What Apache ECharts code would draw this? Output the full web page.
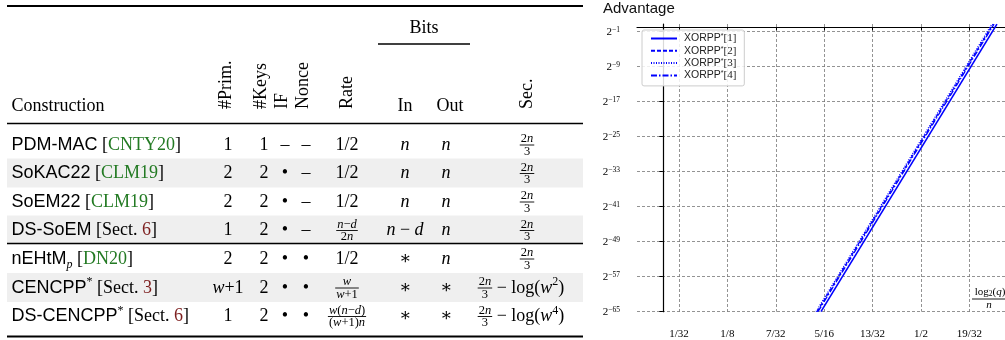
<!DOCTYPE html>
<html lang="en">
  <head>
    <meta charset="UTF-8" />
    <title>Constructions and advantage</title>
    <script src="https://cdn.jsdelivr.net/npm/echarts@6.0.0/dist/echarts.min.js"></script>
    <style>
      body { margin: 0; background: #fff; }
    </style>
  </head>

  <body>
    <div id="main" style="width: 1005px; height: 340px"></div>

    <script>
      // ---- table (left) ----
      var constructions = ["PDM-MAC", "SoKAC22", "SoEM22", "DS-SoEM", "nEHtM", "CENCPP", "DS-CENCPP"];
      var nameMarks = ["", "", "", "", "sub:p", "sup:*", "sup:*"];
      var cites = ["CNTY20", "CLM19", "CLM19", "6", "DN20", "3", "6"];
      var citeKinds = ["ref", "ref", "ref", "sect", "ref", "sect", "sect"];
      var prims = ["1", "2", "2", "1", "2", "w+1", "1"];
      var keys = ["1", "2", "2", "2", "2", "2", "2"];
      var ifs = ["–", "•", "•", "•", "•", "•", "•"];
      var nonces = ["–", "–", "–", "–", "•", "•", "•"];
      var rates = ["1/2", "1/2", "1/2", ["n−d", "2n"], "1/2", ["w", "w+1"], ["w(n−d)", "(w+1)n"]];
      var bitsIn = ["n", "n", "n", "n − d", "∗", "∗", "∗"];
      var bitsOut = ["n", "n", "n", "n", "n", "∗", "∗"];
      var secFrac = ["2n", "3"];
      var secLogPow = ["", "", "", "", "", "2", "4"]; // "− log(w^k)" tail
      var shadedRows = [1, 3, 5];

      var rotHeaders = ["#Prim.", "#Keys", "IF", "Nonce", "Rate", "Sec."];

      // ---- chart (right) ----
      var xTickValues = [1 / 32, 4 / 32, 7 / 32, 10 / 32, 13 / 32, 16 / 32, 19 / 32];
      var xTickLabels = ["1/32", "1/8", "7/32", "5/16", "13/32", "1/2", "19/32"];
      var yTickValues = [-65, -57, -49, -41, -33, -25, -17, -9, -1]; // log2 of advantage
      var seriesNames = ["XORPP*[1]", "XORPP*[2]", "XORPP*[3]", "XORPP*[4]"];
      // [log2(q)/n, log2(advantage)]
      var xorpp1 = [[0.3063, -65], [0.6472, 0.75]];
      var xorpp2 = [[0.2986, -65], [0.6397, 0.75]];
      var xorpp3 = [[0.2967, -65], [0.6375, 0.75]];
      var xorpp4 = [[0.3005, -65], [0.6416, 0.75]];

      var SERIF = '"Liberation Serif", "DejaVu Serif", serif';
      var SANS = '"Liberation Sans", "DejaVu Sans", sans-serif';
      var BIG = 18, SMALL = 12.5;
      var GREEN = "#237a23", RED = "#7d1f1f";

      var rich = {
        u: { fontFamily: SERIF, fontSize: BIG, lineHeight: 24, fill: "#000" },
        i: { fontFamily: SERIF, fontSize: BIG, fontStyle: "italic", lineHeight: 24, fill: "#000" },
        sf: { fontFamily: SANS, fontSize: BIG, lineHeight: 24, fill: "#000" },
        su: { fontFamily: SERIF, fontSize: SMALL, lineHeight: 14, fill: "#000" },
        si: { fontFamily: SERIF, fontSize: SMALL, fontStyle: "italic", lineHeight: 14, fill: "#000" },
        sp: { fontFamily: SERIF, fontSize: 12, lineHeight: 12, verticalAlign: "top", fill: "#000" },
        sb: { fontFamily: SERIF, fontSize: 12, fontStyle: "italic", lineHeight: 12, verticalAlign: "bottom", fill: "#000" },
        g: { fontFamily: SERIF, fontSize: BIG, lineHeight: 24, fill: GREEN },
        r: { fontFamily: SERIF, fontSize: BIG, lineHeight: 24, fill: RED },
        cu: { fontFamily: SERIF, fontSize: 11, lineHeight: 13, fill: "#000" },
        ci: { fontFamily: SERIF, fontSize: 11, fontStyle: "italic", lineHeight: 13, fill: "#000" },
        cb: { fontFamily: SERIF, fontSize: 7.5, lineHeight: 7.5, verticalAlign: "bottom", fill: "#000" },
      };

      var ctx = document.createElement("canvas").getContext("2d");
      function textW(s, size, italic) {
        ctx.font = (italic ? "italic " : "") + size + "px " + SERIF;
        return ctx.measureText(s).width;
      }
      function runs(s) {
        return s.match(/[a-z]+|[^a-z]+/g) || [];
      }
      function math(s, small) {
        var p = small ? "s" : "";
        return runs(s).map(function (r) {
          return "{" + p + (/[a-z]/.test(r) ? "i" : "u") + "|" + r + "}";
        }).join("");
      }
      function mathW(s, small) {
        return runs(s).reduce(function (w, r) {
          return w + textW(r, small ? SMALL : BIG, /[a-z]/.test(r));
        }, 0);
      }

      var els = [];
      function txt(x, y, text, align, extra) {
        var e = { type: "text", x: x, y: y, silent: true,
          style: { text: text, rich: rich, align: align || "center", verticalAlign: "middle",
            font: BIG + "px " + SERIF, fill: "#000" } };
        for (var k in extra || {}) e[k] = extra[k];
        els.push(e);
      }
      function rule(x1, x2, y, w) {
        els.push({ type: "line", silent: true, shape: { x1: x1, y1: y, x2: x2, y2: y },
          style: { stroke: "#000", lineWidth: w } });
      }
      function frac(cx, cy, num, den) {
        var w = Math.max(mathW(num, true), mathW(den, true)) + 2;
        txt(cx, cy - 6, math(num, true));
        rule(cx - w / 2, cx + w / 2, cy, 0.9);
        txt(cx, cy + 6.5, math(den, true));
        return w;
      }

      var TL = 7, TR = 583;
      var rowY = [145, 173.5, 202, 230.5, 259, 288, 316.5];
      var col = { prim: 228, keys: 264, iff: 285, nonce: 306, rate: 347, bin: 405, bout: 446, sec: 527 };
      var rotX = [226, 261, 282, 303, 347, 527.5];

      shadedRows.forEach(function (r) {
        els.push({ type: "rect", silent: true, shape: { x: TL, y: rowY[r] - 15, width: TR - TL, height: 29 },
          style: { fill: "#efefef" } });
      });

      rule(TL, TR, 6, 2);
      rule(TL, TR, 123.5, 1.6);
      rule(TL, TR, 243.5, 1.6);
      rule(TL, TR, 336.5, 2);
      rule(378, 470, 44, 1.3);

      txt(11.5, 106, "{u|Construction}", "left");
      txt(424, 28, "{u|Bits}");
      txt(405, 106, "{u|In}");
      txt(450, 106, "{u|Out}");
      rotHeaders.forEach(function (h, k) {
        txt(rotX[k], 109, "{u|" + h + "}", "left", { rotation: Math.PI / 2 });
      });

      constructions.forEach(function (name, r) {
        var y = rowY[r];
        var s = "{sf|" + name + "}";
        if (nameMarks[r] === "sub:p") s += "{sb|p}";
        if (nameMarks[r] === "sup:*") s += "{sp|*}";
        if (citeKinds[r] === "ref") s += "{u| [}{g|" + cites[r] + "}{u|]}";
        else s += "{u| [Sect. }{r|" + cites[r] + "}{u|]}";
        txt(11.5, y, s, "left");

        txt(col.prim, y, math(prims[r]));
        txt(col.keys, y, math(keys[r]));
        txt(col.iff, y, "{u|" + ifs[r] + "}");
        txt(col.nonce, y, "{u|" + nonces[r] + "}");
        if (Array.isArray(rates[r])) frac(col.rate, y, rates[r][0], rates[r][1]);
        else txt(col.rate, y, math(rates[r]));
        txt(col.bin, y, math(bitsIn[r]));
        txt(col.bout, y, math(bitsOut[r]));

        if (!secLogPow[r]) {
          frac(col.sec, y, secFrac[0], secFrac[1]);
        } else {
          var fw = Math.max(mathW(secFrac[0], true), mathW(secFrac[1], true)) + 2;
          var tw = textW(" − log(", BIG) + textW("w", BIG, true) + textW(secLogPow[r], 12) + textW(")", BIG);
          var left = 521 - (fw + tw) / 2;
          frac(left + fw / 2, y, secFrac[0], secFrac[1]);
          txt(left + fw, y, "{u| − log(}{i|w}{sp|" + secLogPow[r] + "}{u|)}", "left");
        }
      });

      // x-axis caption, log2(q)/n
      txt(990, 292, "{cu|log}{cb|2}{cu|(}{ci|q}{cu|)}");
      rule(972, 1008, 299, 0.9);
      txt(989, 305.5, "{ci|n}");

      var lineTypes = ["solid", [4, 2], [1, 1.5], [6, 2, 1.5, 2]];
      var lineData = [xorpp1, xorpp2, xorpp3, xorpp4];

      var gridLine = { show: true, lineStyle: { type: [3, 2], color: "#777777", width: 0.8 } };

      var mCharts = echarts.init(document.getElementById("main"));
      var option = {
        animation: false,
        title: {
          text: "Advantage",
          left: 603,
          top: 1,
          padding: 0,
          textStyle: { fontFamily: SANS, fontSize: 15, fontWeight: "normal", color: "#111" },
        },
        grid: { left: 637, right: 0, top: 24, bottom: 28.3, outerBoundsMode: "none" },
        legend: {
          orient: "vertical",
          left: 642,
          top: 30,
          padding: [3, 8, 5, 8],
          itemWidth: 26,
          itemHeight: 10,
          itemGap: 1.3,
          borderColor: "#cccccc",
          borderWidth: 1,
          borderRadius: 2,
          backgroundColor: "rgba(255,255,255,0.85)",
          itemStyle: { opacity: 0 },
          data: seriesNames,
          formatter: function (name) {
            return "{x|XORPP}{s|*}{k|[" + name.slice(7, 8) + "]}";
          },
          textStyle: {
            padding: [0, 0, 0, 2],
            rich: {
              x: { fontFamily: SANS, fontSize: 10.5, lineHeight: 11, color: "#222" },
              s: { fontFamily: SANS, fontSize: 7, lineHeight: 7, verticalAlign: "top", color: "#222" },
              k: { fontFamily: SERIF, fontSize: 11, lineHeight: 11, color: "#222" },
            },
          },
        },
        xAxis: {
          type: "value",
          min: -0.0501,
          max: 0.6628,
          offset: 11,
          axisLine: { show: true, lineStyle: { color: "#000", width: 1.2 } },
          axisTick: { show: true, customValues: xTickValues, length: 3, lineStyle: { color: "#000" } },
          axisLabel: {
            customValues: xTickValues,
            margin: 6,
            color: "#000",
            fontFamily: SERIF,
            fontSize: 11,
            formatter: function (v) {
              for (var k = 0; k < xTickValues.length; k++) {
                if (Math.abs(v - xTickValues[k]) < 1e-9) return xTickLabels[k];
              }
              return "";
            },
          },
          splitLine: gridLine,
        },
        yAxis: {
          type: "value",
          min: -65,
          max: 0.76,
          offset: 10,
          axisLine: { show: true, lineStyle: { color: "#000", width: 1.2 } },
          axisTick: { show: true, customValues: yTickValues, length: 3.5, lineStyle: { color: "#000" } },
          axisLabel: {
            customValues: yTickValues,
            margin: 7,
            formatter: function (v) {
              return "{b|2}{s|−" + Math.abs(v) + "}";
            },
            rich: {
              b: { fontFamily: SERIF, fontSize: 11, lineHeight: 11, verticalAlign: "bottom", color: "#000" },
              s: { fontFamily: SERIF, fontSize: 7.5, lineHeight: 8, verticalAlign: "top", color: "#000" },
            },
          },
          splitLine: gridLine,
        },
        series: lineData.map(function (d, k) {
          return {
            name: seriesNames[k],
            type: "line",
            data: d,
            symbol: "none",
            clip: true,
            color: "#0000ff",
            lineStyle: { color: "#0000ff", width: k === 0 ? 1.6 : 1.3, type: lineTypes[k] },
            z: 4 - k,
          };
        }),
        graphic: { elements: els },
      };
      mCharts.setOption(option);
    </script>
  </body>
</html>
